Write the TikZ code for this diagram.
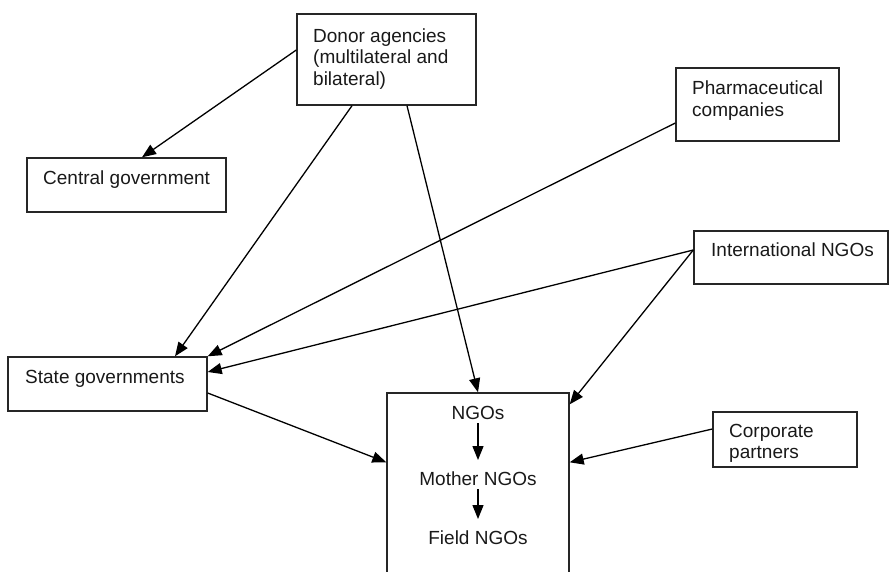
\documentclass[tikz,border=0pt]{standalone}
\usepackage{fontspec}
\setmainfont{Liberation Sans}
\usetikzlibrary{arrows.meta,calc}
\begin{document}
\begin{tikzpicture}[x=1pt,y=-1pt,
  box/.style={draw=black!85, line width=1.4pt, inner sep=0pt, rectangle},
  lbl/.style={inner sep=0pt, align=left, text=black!90,
    font=\fontsize{19}{21.5}\selectfont},
  arr/.style={line width=1.3pt, -{Triangle[length=14pt,width=11pt]}}]
\useasboundingbox (0,0) rectangle (889,571);
% boxes
\node[box, minimum width=179pt, minimum height=91pt] (donor) at (386.5,59.5) {};
\node[box, minimum width=199pt, minimum height=54pt] (central) at (126.5,185) {};
\node[box, minimum width=163pt, minimum height=73pt] (pharma) at (757.5,104.5) {};
\node[box, minimum width=194pt, minimum height=53pt] (intl) at (791,257.5) {};
\node[box, minimum width=199pt, minimum height=54pt] (state) at (107.5,384) {};
\node[box, minimum width=182pt, minimum height=207pt] (ngo) at (478,496.5) {};
\node[box, minimum width=144pt, minimum height=55pt] (corp) at (785,439.5) {};
% texts
\node[lbl, anchor=north west] (donorT) at (313,28.4) {Donor agencies\\(multilateral and\\bilateral)};
\node[lbl, anchor=base west] (centralT) at (43,184) {Central government};
\node[lbl, anchor=north west] (pharmaT) at (692,80.7) {Pharmaceutical\\companies};
\node[lbl, anchor=base west] (intlT) at (711,256) {International NGOs};
\node[lbl, anchor=base west] (stateT) at (25,383.3) {State governments};
\node[lbl, anchor=north west] (corpT) at (729,424) {Corporate\\partners};
\node[lbl, anchor=base] (ngosT) at (478,419) {NGOs};
\node[lbl, anchor=base] (motherT) at (478,485) {Mother NGOs};
\node[lbl, anchor=base] (fieldT) at (478,544) {Field NGOs};
% connectors
\draw[arr] ([yshift=9.5pt]donor.west) -- ([xshift=15.5pt]central.north);
\draw[arr] ([xshift=-34.5pt]donor.south) -- ([xshift=67.5pt]state.north);
\draw[arr] ([xshift=20.5pt]donor.south) -- (ngo.north);
\draw[arr] ([yshift=-18.5pt]pharma.west) -- (state.north east);
\draw[arr] ([yshift=7.5pt]intl.west) -- ([yshift=12pt]state.east);
\draw[arr] ([yshift=7.5pt]intl.west) -- ([yshift=-12pt]ngo.north east);
\draw[arr] ([yshift=-9pt]state.east) -- ([yshift=-70pt]ngo.north west);
\draw[arr] ([yshift=10.5pt]corp.west) -- ([yshift=-70pt]ngo.north east);
\draw[arr] ([yshift=-4pt]ngosT.south) -- ([yshift=11pt]motherT.north);
\draw[arr] ([yshift=-4pt]motherT.south) -- ([yshift=11pt]fieldT.north);
\end{tikzpicture}
\end{document}
